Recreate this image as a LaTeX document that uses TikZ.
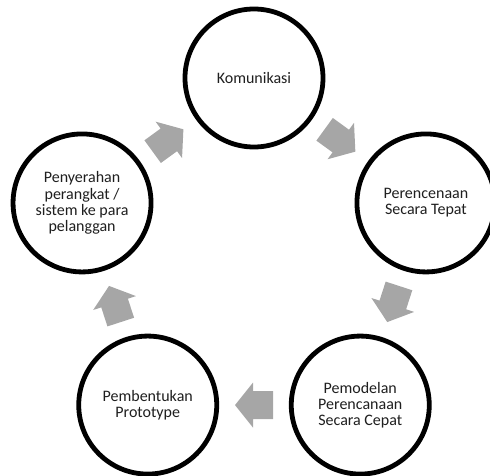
\documentclass[tikz,border=0pt]{standalone}
\usepackage{fontspec}
\setmainfont{Carlito}
\usetikzlibrary{calc}
\definecolor{arrowgray}{RGB}{166,166,166}
\tikzset{
  stage/.style={circle, draw=black, line width=4.8pt, fill=white, minimum size=138pt, inner sep=0pt,
    align=center, font=\fontsize{16pt}{16.2pt}\selectfont, text=black!88},
  blockarrow/.style={fill=arrowgray, draw=none}
}
\newcommand{\cycarrow}[2]{%
  \fill[blockarrow, shift={(#1)}, rotate=#2]
    (-19pt,-14pt) -- (1pt,-14pt) -- (1pt,-22.5pt) -- (19pt,0pt) -- (1pt,22.5pt) -- (1pt,14pt) -- (-19pt,14pt) -- cycle;}
\begin{document}
\begin{tikzpicture}[x=1pt,y=1pt]
\useasboundingbox (0,0) rectangle (490,475);
\coordinate (c) at (254,216.2);
\node[stage] (k) at ($(c)+(90:180.8)$) {Komunikasi};
\node[stage] (r) at ($(c)+(18:180.8)$) {Perencenaan\\Secara Tepat};
\node[stage] (br) at ($(c)+(-54:180.8)$) {Pemodelan\\Perencanaan\\Secara Cepat};
\node[stage] (bl) at ($(c)+(-126:180.8)$) {Pembentukan\\Prototype};
\node[stage] (l) at ($(c)+(162:180.8)$) {Penyerahan\\perangkat /\\sistem ke para\\pelanggan};
\coordinate (a1) at ($(k)!0.5!(r)$);
\coordinate (a2) at ($(r)!0.5!(br)$);
\coordinate (a3) at ($(br)!0.5!(bl)$);
\coordinate (a4) at ($(bl)!0.5!(l)$);
\coordinate (a5) at ($(l)!0.5!(k)$);
\cycarrow{a1}{-36}
\cycarrow{a2}{-108}
\cycarrow{a3}{180}
\cycarrow{a4}{108}
\cycarrow{a5}{36}
\end{tikzpicture}
\end{document}
